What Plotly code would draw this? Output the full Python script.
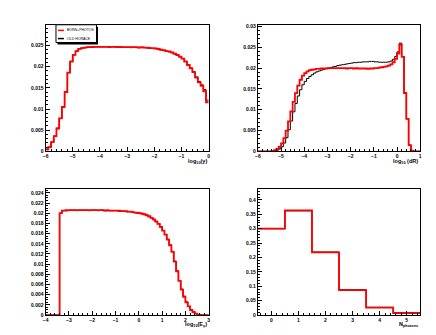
import numpy as np
import plotly.graph_objects as go

# ------------------------------------------------------------------
# histogram contents, 0.1 wide bins
# ------------------------------------------------------------------
# log10(y) : 60 bins from -6 to 0
logy_lo = -6.0
logy_born = [0.0005, 0.0010, 0.0022, 0.0036, 0.0054, 0.0078, 0.0105, 0.0140, 0.0186, 0.0212,
             0.0228, 0.0237, 0.0242, 0.0244, 0.0245, 0.0246, 0.0246, 0.0247, 0.0247, 0.0247,
             0.0247, 0.0247, 0.0247, 0.0247, 0.0247, 0.0247, 0.0246, 0.0247, 0.0246, 0.0246,
             0.0246, 0.0246, 0.0246, 0.0246, 0.0245, 0.0246, 0.0245, 0.0245, 0.0244, 0.0244,
             0.0243, 0.0242, 0.0240, 0.0239, 0.0237, 0.0236, 0.0234, 0.0231, 0.0228, 0.0224,
             0.0219, 0.0212, 0.0204, 0.0196, 0.0187, 0.0174, 0.0163, 0.0155, 0.0142, 0.0116]
logy_horace = [0.0004, 0.0010, 0.0022, 0.0036, 0.0055, 0.0078, 0.0104, 0.0141, 0.0186, 0.0213,
               0.0228, 0.0237, 0.0242, 0.0244, 0.0245, 0.0246, 0.0246, 0.0246, 0.0247, 0.0247,
               0.0247, 0.0247, 0.0247, 0.0246, 0.0247, 0.0247, 0.0246, 0.0246, 0.0246, 0.0246,
               0.0246, 0.0245, 0.0246, 0.0245, 0.0245, 0.0245, 0.0245, 0.0244, 0.0244, 0.0243,
               0.0243, 0.0241, 0.0240, 0.0238, 0.0237, 0.0235, 0.0233, 0.0230, 0.0227, 0.0223,
               0.0219, 0.0213, 0.0205, 0.0197, 0.0188, 0.0176, 0.0165, 0.0157, 0.0146, 0.0121]

# log10(dR) : 70 bins from -6 to 1
logdr_lo = -6.0
logdr_born = [0, 0, 0, 0, 0, 0, 0.0001, 0.0003, 0.0006, 0.0011,
              0.0019, 0.0032, 0.0050, 0.0072, 0.0096, 0.0119, 0.0140, 0.0158, 0.0172, 0.0182,
              0.0188, 0.0192, 0.0195, 0.0196, 0.0197, 0.0198, 0.0198, 0.0199, 0.0199, 0.0199,
              0.0200, 0.0200, 0.0200, 0.0200, 0.0200, 0.0200, 0.0200, 0.0200, 0.0199, 0.0200,
              0.0200, 0.0199, 0.0200, 0.0199, 0.0199, 0.0199, 0.0199, 0.0198, 0.0199, 0.0199,
              0.0200, 0.0200, 0.0201, 0.0202, 0.0203, 0.0204, 0.0206, 0.0209, 0.0214, 0.0222,
              0.0235, 0.0256, 0.0227, 0.0140, 0.0078, 0.0015, 0.0002, 0, 0, 0]
logdr_horace = [0, 0, 0, 0, 0, 0, 0, 0.0001, 0.0003, 0.0006,
                0.0011, 0.0020, 0.0033, 0.0052, 0.0073, 0.0095, 0.0115, 0.0133, 0.0148, 0.0160,
                0.0168, 0.0175, 0.0180, 0.0184, 0.0188, 0.0191, 0.0193, 0.0195, 0.0197, 0.0199,
                0.0200, 0.0201, 0.0203, 0.0204, 0.0206, 0.0207, 0.0208, 0.0209, 0.0210, 0.0211,
                0.0212, 0.0213, 0.0213, 0.0214, 0.0214, 0.0215, 0.0215, 0.0215, 0.0216, 0.0216,
                0.0215, 0.0215, 0.0214, 0.0214, 0.0214, 0.0214, 0.0215, 0.0217, 0.0221, 0.0228,
                0.0239, 0.0260, 0.0228, 0.0141, 0.0078, 0.0015, 0.0002, 0, 0, 0]

# log10(E_gamma) : 70 bins from -4 to 3
loge_lo = -4.0
loge_born = [0, 0, 0, 0, 0, 0, 0.0200, 0.0205, 0.0205, 0.0206,
             0.0206, 0.0206, 0.0206, 0.0206, 0.0206, 0.0206, 0.0206, 0.0206, 0.0206, 0.0206,
             0.0206, 0.0206, 0.0206, 0.0206, 0.0206, 0.0205, 0.0206, 0.0205, 0.0205, 0.0205,
             0.0205, 0.0205, 0.0204, 0.0204, 0.0204, 0.0203, 0.0203, 0.0202, 0.0201, 0.0201,
             0.0200, 0.0199, 0.0198, 0.0196, 0.0194, 0.0191, 0.0188, 0.0184, 0.0179, 0.0173,
             0.0166, 0.0158, 0.0148, 0.0137, 0.0124, 0.0105, 0.0086, 0.0067, 0.0050, 0.0036,
             0.0025, 0.0017, 0.0010, 0.0006, 0.0003, 0.0001, 0.00005, 0, 0, 0]
loge_horace = [0, 0, 0, 0, 0, 0, 0.0200, 0.0205, 0.0206, 0.0205,
               0.0206, 0.0206, 0.0206, 0.0205, 0.0206, 0.0206, 0.0206, 0.0206, 0.0205, 0.0206,
               0.0206, 0.0206, 0.0205, 0.0206, 0.0206, 0.0205, 0.0205, 0.0205, 0.0205, 0.0205,
               0.0205, 0.0204, 0.0204, 0.0204, 0.0203, 0.0203, 0.0203, 0.0202, 0.0201, 0.0200,
               0.0200, 0.0199, 0.0197, 0.0196, 0.0193, 0.0191, 0.0187, 0.0183, 0.0179, 0.0173,
               0.0166, 0.0158, 0.0149, 0.0138, 0.0125, 0.0106, 0.0087, 0.0068, 0.0051, 0.0037,
               0.0026, 0.0017, 0.0011, 0.0006, 0.0003, 0.0001, 0.00005, 0, 0, 0]

# N photons : 6 bins from -0.5 to 5.5
nph_lo = -0.5
nph_born = [0.300, 0.364, 0.218, 0.087, 0.026, 0.007]
nph_horace = [0.300, 0.362, 0.219, 0.088, 0.027, 0.008]

W, H = 436, 335
font = 'Liberation Sans'


def px(x):
    return x / W


def py(y):
    return 1 - y / H


def steps(lo, width, vals):
    edges = lo + width * np.arange(len(vals) + 1)
    return edges, list(vals) + [vals[-1]]


panels = [
    # (lo, width, born, horace, xrange, yrange, ydtick, yminor, xminor, title, dom_x, dom_y)
    (logy_lo, 0.1, logy_born, logy_horace, [-6, 0], [0, 0.0299], 0.005, 0.001, 0.2,
     'log<sub>10</sub>(y)', [35, 200], [15, 143.5]),
    (logdr_lo, 0.1, logdr_born, logdr_horace, [-6, 1], [0, 0.0304], 0.005, 0.001, 0.2,
     'log<sub>10</sub> (dR)', [249.7, 414], [15, 143.5]),
    (loge_lo, 0.1, loge_born, loge_horace, [-4, 3], [0, 0.0247], 0.002, 0.0005, 0.2,
     'log<sub>10</sub>(E<sub>γ</sub>)', [35, 200], [182, 309.7]),
    (nph_lo, 1.0, nph_born, nph_horace, [-0.5, 5.5], [0, 0.437], 0.05, 0.01, 0.2,
     'N<sub>photons</sub>', [249.7, 414], [182, 309.7]),
]

fig = go.Figure()
layout = dict(width=W, height=H, margin=dict(l=0, r=0, t=0, b=0),
              paper_bgcolor='white', plot_bgcolor='white', showlegend=False)
annotations = []
shapes = []

for i, (lo, width, born, horace, xr, yr, ydt, ymin, xmin, title, dx, dy) in enumerate(panels):
    n = '' if i == 0 else str(i + 1)
    xe, yh = steps(lo, width, horace)
    fig.add_trace(go.Scatter(x=xe, y=yh, mode='lines', line=dict(color='black', width=1, shape='hv'),
                             xaxis='x' + n, yaxis='y' + n, name='OLD HORACE'))
    xe, yb = steps(lo, width, born)
    fig.add_trace(go.Scatter(x=xe, y=yb, mode='lines', line=dict(color='#ff0000', width=1.8, shape='hv'),
                             xaxis='x' + n, yaxis='y' + n, name='BORN+PHOTOS'))
    common = dict(showline=True, mirror=True, linecolor='black', linewidth=1,
                  ticks='inside', tickcolor='black', ticklen=4, showgrid=False, zeroline=False,
                  tickfont=dict(family=font, size=5, color='black', weight='bold'))
    layout['xaxis' + n] = dict(common, range=xr, dtick=1, tick0=0, anchor='y' + n,
                               domain=[px(dx[0]), px(dx[1])],
                               minor=dict(ticks='inside', ticklen=2, dtick=xmin, tickcolor='black'))
    layout['yaxis' + n] = dict(common, range=yr, dtick=ydt, tick0=0, anchor='x' + n,
                               domain=[py(dy[1]), py(dy[0])],
                               minor=dict(ticks='inside', ticklen=2, dtick=ymin, tickcolor='black'))
    annotations.append(dict(text=title, xref='paper', yref='paper', x=px(dx[1]), y=py(dy[1] + 10),
                            xanchor='right', yanchor='middle', showarrow=False,
                            font=dict(family=font, size=5.5, color='black', weight='bold')))

# legend box (ROOT style with shadow)
shapes.append(dict(type='rect', xref='paper', yref='paper', x0=px(47), x1=px(88), y0=py(35), y1=py(17),
                   fillcolor='black', line=dict(width=0)))
shapes.append(dict(type='rect', xref='paper', yref='paper', x0=px(45.5), x1=px(86.5), y0=py(33), y1=py(15),
                   fillcolor='white', line=dict(color='black', width=1)))
for y, col, lab in [(20.7, '#ff0000', 'BORN+PHOTOS'), (29, 'black', 'OLD HORACE')]:
    shapes.append(dict(type='line', xref='paper', yref='paper', x0=px(47.5), x1=px(53.5), y0=py(y), y1=py(y),
                       line=dict(color=col, width=1.5)))
    annotations.append(dict(text=lab, xref='paper', yref='paper', x=px(55), y=py(y), xanchor='left',
                            yanchor='middle', showarrow=False, font=dict(family=font, size=3.5, color='black')))

layout['annotations'] = annotations
layout['shapes'] = shapes
fig.update_layout(**layout)
fig.write_html("out.html")
